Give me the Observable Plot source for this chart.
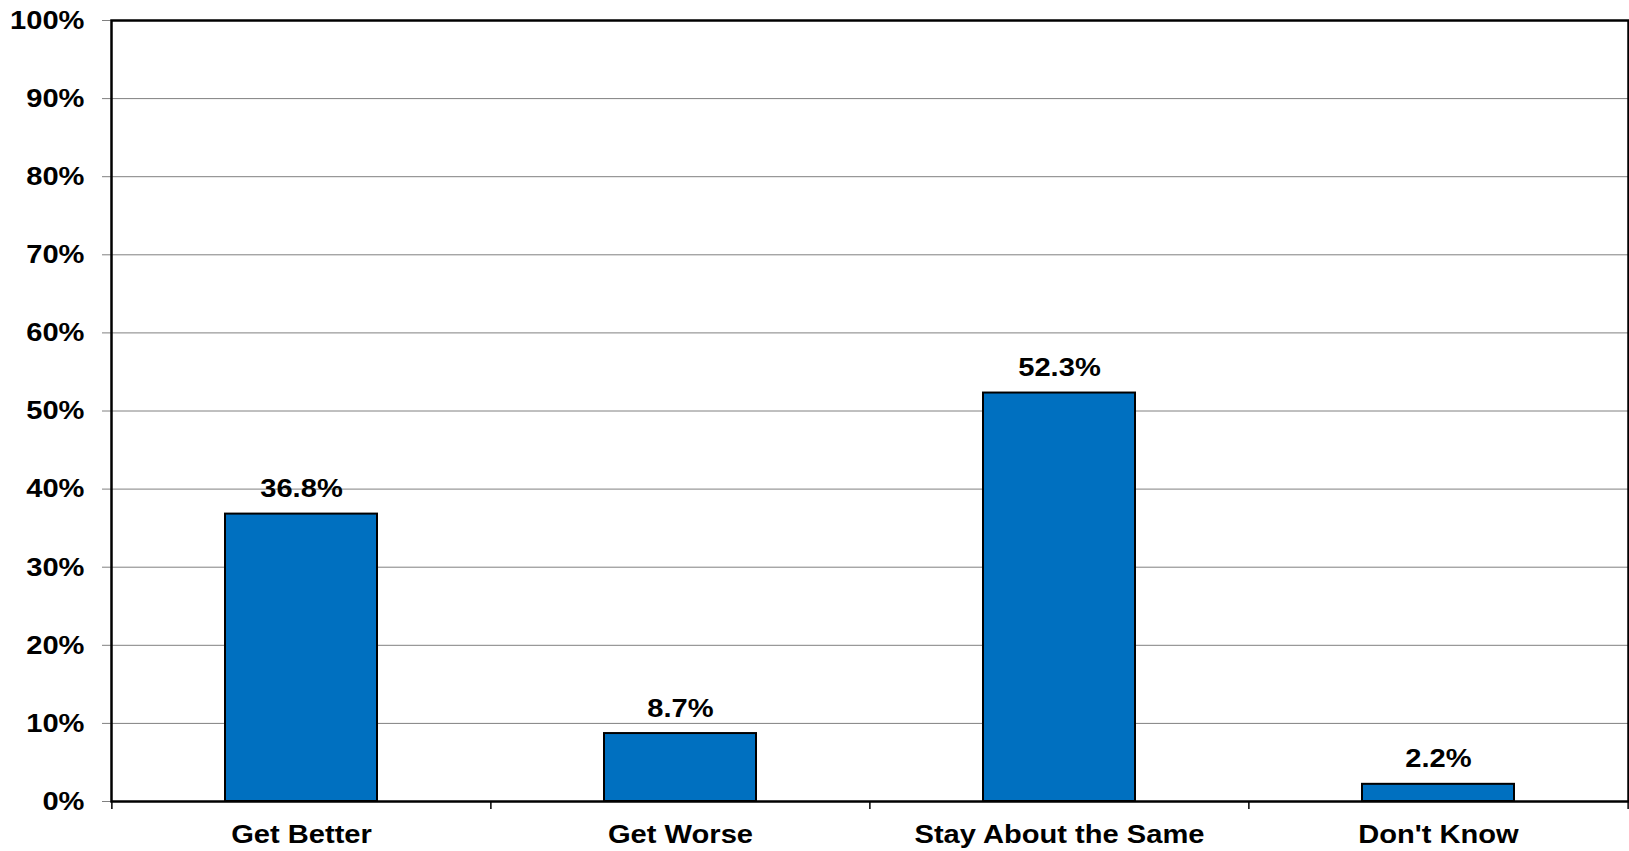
<!DOCTYPE html>
<html>
<head>
<meta charset="utf-8">
<script src="https://cdn.jsdelivr.net/npm/d3@7"></script>
<script src="https://cdn.jsdelivr.net/npm/@observablehq/plot@0.6"></script>
<style>
  html, body { margin: 0; padding: 0; background: #fff; }
  #chart svg { display: block; }
</style>
</head>
<body>
<div id="chart"></div>
<script>
const categories = ["Get Better", "Get Worse", "Stay About the Same", "Don't Know"];
const values = [36.8, 8.7, 52.3, 2.2];
const labels = ["36.8%", "8.7%", "52.3%", "2.2%"];
const yTicks = [0, 10, 20, 30, 40, 50, 60, 70, 80, 90, 100];

const data = categories.map((c, i) => ({category: c, value: values[i], label: labels[i]}));

const width = 1629, height = 851;
const marginLeft = 111, marginRight = 1, marginTop = 20, marginBottom = 50;
const step = (width - marginLeft - marginRight) / categories.length;
const fs = 26;

const chart = Plot.plot({
  width, height,
  marginLeft, marginRight, marginTop, marginBottom,
  style: {fontFamily: "'Liberation Sans', Arial, sans-serif", fontWeight: "bold", fontSize: fs + "px", color: "#000", background: "#fff"},
  x: {domain: categories, paddingInner: 0.6, paddingOuter: 0.3, label: null},
  y: {domain: [0, 100], label: null},
  marks: [
    Plot.ruleY(yTicks, {stroke: "#808080", strokeWidth: 1, insetLeft: -9}),
    Plot.axisY({ticks: yTicks, tickFormat: d => d + "%", tickSize: 0, tickPadding: 27, fontSize: fs, fontWeight: "bold", label: null}),
    Plot.axisX({tickSize: 0, tickPadding: 23, fontSize: fs, fontWeight: "bold", label: null}),
    Plot.barY(data, {x: "category", y: "value", fill: "#0070C0", stroke: "#000", strokeWidth: 2}),
    Plot.text(data, {x: "category", y: "value", text: "label", lineAnchor: "bottom", dy: -17, fontSize: fs, fontWeight: "bold", fill: "#000"}),
    Plot.ruleX(categories, {x: d => d, y1: 0, y2: 0, dx: -step / 2, insetBottom: -8, stroke: "#000", strokeWidth: 1.5}),
    Plot.ruleX(categories.slice(-1), {x: d => d, y1: 0, y2: 0, dx: step / 2, insetBottom: -8, stroke: "#000", strokeWidth: 1.5}),
    Plot.frame({stroke: "#000", strokeWidth: 2.5})
  ]
});
// the reference's bold type is slightly wider than Liberation Sans
d3.select(chart).selectAll("text").each(function() {
  const t = this.getAttribute("transform");
  if (t) this.setAttribute("transform", t + " scale(1.12,1)");
});
document.getElementById("chart").appendChild(chart);
</script>
</body>
</html>
